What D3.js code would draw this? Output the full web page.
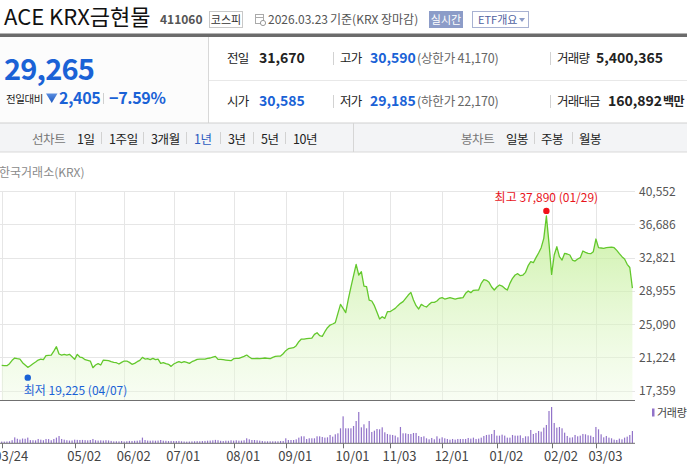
<!DOCTYPE html>
<html>
<head>
<meta charset="utf-8">
<script src="https://cdn.jsdelivr.net/npm/d3@7"></script>
<style>
  html, body { margin: 0; padding: 0; background: #fff; }
  svg { display: block; font-family: "Noto Sans CJK KR", "Noto Sans", sans-serif; }
</style>
</head>
<body>
<script>
var W = 687, H = 468;

// daily close (KRW), trading days 2025-03-24 .. 2026-03-23
var closes = [
  20300, 20265, 20265, 20495, 20885, 21155, 21075, 21035, 20610, 20340,
  20070, 20265, 20495, 20690, 20920, 21035, 20960, 21425, 21465, 21500,
  21965, 22470, 21620, 21500, 21580, 21500, 21580, 21310, 21000, 21580,
  21270, 21190, 20960, 20885, 20805, 20030, 20340, 20495, 20340, 20920,
  20885, 20845, 20730, 20650, 20610, 20455, 20650, 20805, 20805, 20650,
  20420, 20535, 20730, 20885, 21230, 21035, 21075, 20960, 21115, 20960,
  21035, 20535, 20610, 20495, 20420, 20185, 20455, 20610, 20730, 20610,
  20730, 20650, 20535, 20730, 20845, 21000, 21035, 21035, 21035, 21115,
  21155, 21270, 21345, 21000, 21000, 20960, 20920, 20885, 20845, 21075,
  21115, 21115, 21230, 21345, 21500, 21270, 21075, 21075, 21115, 21075,
  21115, 21155, 21115, 21075, 21230, 21345, 21385, 21385, 21655, 22005,
  22240, 22315, 22355, 22585, 23050, 23360, 23360, 23400, 23440, 23475,
  23905, 24095, 23750, 23670, 24210, 24675, 24985, 25105, 25260, 26340,
  27385, 26925, 26420, 28005, 29400, 30715, 32035, 30795, 31180, 29515,
  29440, 27890, 27775, 27235, 26460, 25685, 25955, 25760, 26535, 26535,
  26730, 26925, 27235, 27505, 27700, 28085, 28470, 28780, 27890, 27235,
  26845, 27385, 27195, 27080, 27385, 27620, 27620, 27775, 28085, 28160,
  28005, 28085, 28160, 28085, 28005, 28085, 28125, 28160, 28665, 28935,
  28745, 29015, 29050, 29050, 29825, 30255, 30175, 29945, 29400, 29050,
  29400, 29635, 29515, 29245, 29050, 29825, 30410, 30795, 30950, 30715,
  30795, 31105, 31880, 32345, 32225, 32810, 33350, 33970, 35055, 37650,
  34475, 30870, 33120, 34085, 32925, 32535, 33310, 33235, 33120, 32535,
  32420, 32655, 32810, 33585, 33430, 33310, 33275, 33505, 34975, 33970,
  33930, 33890, 33970, 34010, 34045, 33970, 33660, 33275, 32925, 32655,
  32035, 31670, 29265
];

// daily volume (thousand shares)
var volumes = [
  750, 750, 800, 900, 1350, 2600, 2000, 1650, 2100, 2000,
  2500, 1400, 1350, 1300, 1900, 1600, 1350, 1900, 1850, 1350,
  1900, 2500, 3200, 1900, 1600, 1350, 1200, 1250, 1600, 1500,
  1450, 1500, 1400, 1300, 1450, 1900, 1350, 1200, 1300, 1200,
  1350, 1250, 1050, 850, 900, 850, 1000, 800, 900, 1050,
  1000, 1100, 1150, 1300, 2500, 1450, 1200, 1150, 1200, 1150,
  1200, 1450, 1150, 1100, 1000, 1050, 1000, 1000, 1050, 900,
  800, 750, 800, 850, 900, 950, 900, 1000, 1050, 1150,
  1200, 1300, 1500, 1350, 1100, 1000, 1150, 1100, 1320, 1170,
  1320, 1170, 1170, 1320, 2200, 1750, 1450, 1450, 1320, 1170,
  1020, 880, 880, 880, 880, 880, 880, 1020, 1020, 2200,
  1450, 1450, 1450, 1750, 2490, 3070, 3070, 1900, 2200, 2200,
  2200, 3070, 3070, 2780, 2490, 2630, 3660, 2930, 3950, 4390,
  6590, 11850, 6590, 6590, 6590, 7610, 9800, 13760, 7020, 8340,
  6590, 9800, 4980, 5560, 6290, 6150, 7020, 4830, 4100, 3800,
  3660, 3370, 2630, 7170, 4390, 4390, 4100, 4100, 4540, 4540,
  3220, 2780, 3070, 2200, 1760, 2340, 1760, 3070, 2050, 2630,
  2200, 1900, 1610, 1900, 1610, 1900, 1900, 1900, 1900, 2340,
  2050, 2490, 1900, 2050, 2490, 3220, 3660, 3800, 4100, 5850,
  3370, 3370, 3800, 3370, 2490, 2490, 3660, 3370, 3370, 3510,
  2340, 3070, 3070, 5850, 4100, 4540, 5410, 5120, 6880, 8050,
  14190, 15950, 8930, 6880, 7170, 6590, 4680, 3220, 2490, 2630,
  3660, 3070, 3370, 4100, 3950, 3510, 3370, 2780, 7170, 6150,
  3950, 2630, 3220, 2490, 2200, 1610, 1460, 2050, 1760, 2490,
  2930, 3660, 5400
];

var priceTicks = [17359, 21224, 25090, 28955, 32821, 36686, 40552];
var dateLabels = ["03/24", "05/02", "06/02", "07/01", "08/01", "09/01",
                  "10/01", "11/03", "12/01", "01/02", "02/02", "03/03"];
var dateIndex = [0, 28, 47, 66, 89, 109, 131, 149, 169, 190, 211, 228];

var highIdx = 209, highVal = 37890, highText = "최고 37,890 (01/29)";
var lowIdx = 10, lowVal = 19225, lowText = "최저 19,225 (04/07)";

var BLUE = "#1a62d6";

var svg = d3.select("body").append("svg").attr("width", W).attr("height", H);

function text(x, y, s, size, color, weight, anchor, spacing) {
  return svg.append("text")
    .attr("x", x).attr("y", y)
    .attr("font-size", size + "px")
    .attr("fill", color || "#222")
    .attr("font-weight", weight || "normal")
    .attr("text-anchor", anchor || "start")
    .attr("letter-spacing", spacing || 0)
    .text(s);
}
function vbar(x, y1, y2, c) {
  svg.append("line").attr("x1", x).attr("x2", x).attr("y1", y1).attr("y2", y2)
    .attr("stroke", c || "#d2d2d2").attr("stroke-width", 1);
}
function hline(x1, x2, y, c) {
  svg.append("line").attr("x1", x1).attr("x2", x2).attr("y1", y).attr("y2", y)
    .attr("stroke", c).attr("stroke-width", 1);
}

// ---- title row
text(4, 25, "ACE KRX금현물", 22, "#111");
text(160, 24, "411060", 12, "#555", "bold");
svg.append("rect").attr("x", 209.5).attr("y", 11.5).attr("width", 33).attr("height", 16)
  .attr("fill", "#fff").attr("stroke", "#c8c8c8");
text(226, 23.5, "코스피", 11, "#333", null, "middle");
// calendar icon
svg.append("rect").attr("x", 255.5).attr("y", 14.5).attr("width", 8).attr("height", 9)
  .attr("fill", "#fff").attr("stroke", "#aaa");
hline(256, 263, 17.5, "#aaa");
svg.append("circle").attr("cx", 263).attr("cy", 23).attr("r", 2.6).attr("fill", "#fff").attr("stroke", "#999");
text(268, 24, "2026.03.23", 12, "#555");
text(330, 24, "기준(KRX 장마감)", 12, "#555");
svg.append("rect").attr("x", 429).attr("y", 11).attr("width", 34).attr("height", 17)
  .attr("fill", "#8c9cc8");
text(446, 23.5, "실시간", 11, "#fff", null, "middle");
svg.append("rect").attr("x", 472.5).attr("y", 11.5).attr("width", 56).attr("height", 16)
  .attr("fill", "#fff").attr("stroke", "#a8b2d2");
text(478, 23.5, "ETF개요", 11, "#4f62a0");
svg.append("path").attr("d", "M519,18 L525,18 L522,22 Z").attr("fill", "#8c9cc8");

svg.append("rect").attr("x", 0).attr("y", 33.5).attr("width", W).attr("height", 3.5).attr("fill", "#6b6b6b");

// ---- quote panel
svg.append("rect").attr("x", 0).attr("y", 37).attr("width", 208).attr("height", 86).attr("fill", "#fcfcfc");
vbar(208.5, 37, 123, "#d8d8d8");
hline(209, W, 80.5, "#e8e8e8");

text(4, 80, "29,265", 29, BLUE, "bold", null, -0.8);
text(6, 103, "전일대비", 10.5, "#222", null, null, -0.4);
var tri = svg.append("defs").append("linearGradient").attr("id", "triGrad")
  .attr("x1", 0).attr("y1", 0).attr("x2", 0).attr("y2", 1);
tri.append("stop").attr("offset", "0%").attr("stop-color", "#5b8ee0");
tri.append("stop").attr("offset", "100%").attr("stop-color", "#1a56c0");
svg.append("path").attr("d", "M46,93.5 L57.5,93.5 L51.75,103 Z").attr("fill", "url(#triGrad)");
text(59, 104, "2,405", 16, BLUE, "bold", null, -0.3);
vbar(103.5, 93, 104, "#d0d0d0");
text(109, 104, "−7.59%", 16, BLUE, "bold", null, -0.3);

var rowY = [63, 105.5];
var lab = 12.5, labSp = -0.8;
text(227, rowY[0], "전일", lab, "#222", null, null, labSp);
text(259, rowY[0], "31,670", 14, "#222", "bold");
vbar(333.5, 52, 65);
text(340, rowY[0], "고가", lab, "#222", null, null, labSp);
text(370, rowY[0], "30,590", 14, BLUE, "bold");
text(417, rowY[0], "(상한가 41,170)", 12.5, "#666", null, null, -0.2);
vbar(550.5, 52, 65);
text(557, rowY[0], "거래량", lab, "#222", null, null, labSp);
text(596, rowY[0], "5,400,365", 14, "#222", "bold");

text(227, rowY[1], "시가", lab, "#222", null, null, labSp);
text(259, rowY[1], "30,585", 14, BLUE, "bold");
vbar(333.5, 95, 108);
text(340, rowY[1], "저가", lab, "#222", null, null, labSp);
text(370, rowY[1], "29,185", 14, BLUE, "bold");
text(417, rowY[1], "(하한가 22,170)", 12.5, "#666", null, null, -0.2);
vbar(550.5, 95, 108);
text(557, rowY[1], "거래대금", lab, "#222", null, null, labSp);
text(608, rowY[1], "160,892", 14, "#222", "bold");
text(663, rowY[1], "백만", 12, "#222", "bold", null, -0.5);

// ---- period tabs
svg.append("rect").attr("x", 0).attr("y", 123).attr("width", W).attr("height", 29).attr("fill", "#f3f4f6");
hline(0, W, 123, "#d0d0d0");
hline(0, W, 152, "#d9d9d9");
vbar(353.5, 123, 152, "#d6d6d6");

var tabY = 143.5;
text(32, tabY, "선차트", 12.5, "#777", null, null, -0.4);
var tabs = [["1일", 77], ["1주일", 109], ["3개월", 151], ["1년", 194], ["3년", 228], ["5년", 261], ["10년", 293]];
tabs.forEach(function(t, k) {
  text(t[1], tabY, t[0], 12.5, t[0] == "1년" ? "#2d5cc0" : "#222", null, null, -0.4);
  if (k < tabs.length - 1) vbar(tabs[k + 1][1] - 7.5, 132, 144);
});
text(461, tabY, "봉차트", 12.5, "#777", null, null, -0.4);
var candles = [["일봉", 506], ["주봉", 541], ["월봉", 579]];
candles.forEach(function(t, k) {
  text(t[1], tabY, t[0], 12.5, "#222", null, null, -0.4);
  if (k < candles.length - 1) vbar(candles[k + 1][1] - 6.5, 132, 144);
});

// ---- chart
text(-1, 177, "한국거래소(KRX)", 12, "#8a8a8a");

var plotRight = 635, plotTop = 191, plotBottom = 400, volBase = 443.3;
var x = d3.scaleLinear().domain([0, closes.length - 1]).range([1.7, 632.4]);
var y = d3.scaleLinear().domain([17359, 40552]).range([390.7, 191]);
var yv = d3.scaleLinear().domain([0, d3.max(volumes)]).range([volBase, 407]);

var defs = svg.append("defs");
var grad = defs.append("linearGradient").attr("id", "fillGrad")
  .attr("gradientUnits", "userSpaceOnUse")
  .attr("x1", 0).attr("y1", plotTop).attr("x2", 0).attr("y2", plotBottom);
grad.append("stop").attr("offset", "0%").attr("stop-color", "#b3ea7c").attr("stop-opacity", 0.8);
grad.append("stop").attr("offset", "100%").attr("stop-color", "#eefbe2").attr("stop-opacity", 0.4);

var grid = svg.append("g");
grid.selectAll(".hg").data(priceTicks).enter().append("line")
  .attr("x1", 0).attr("x2", plotRight)
  .attr("y1", function(d) { return Math.round(y(d)) + 0.5; })
  .attr("y2", function(d) { return Math.round(y(d)) + 0.5; })
  .attr("stroke", "#e6e6e6");
grid.selectAll(".vg").data(dateIndex).enter().append("line")
  .attr("x1", function(d) { return Math.round(x(d)) + 0.5; })
  .attr("x2", function(d) { return Math.round(x(d)) + 0.5; })
  .attr("y1", plotTop).attr("y2", plotBottom)
  .attr("stroke", "#e6e6e6");

var area = d3.area()
  .x(function(d, i) { return x(i); })
  .y0(plotBottom)
  .y1(function(d) { return y(d); });
svg.append("path").datum(closes).attr("d", area).attr("fill", "url(#fillGrad)");

var line = d3.line()
  .x(function(d, i) { return x(i); })
  .y(function(d) { return y(d); });
svg.append("path").datum(closes).attr("d", line)
  .attr("fill", "none").attr("stroke", "#63c82c").attr("stroke-width", 1.3)
  .attr("stroke-linejoin", "round");

// price axis labels
svg.append("g").selectAll("text").data(priceTicks).enter().append("text")
  .attr("x", 639).attr("y", function(d) { return y(d) + 4.5; })
  .attr("font-size", "12px").attr("fill", "#555")
  .text(function(d) { return d3.format(",")(d); });

// high / low markers
svg.append("circle").attr("cx", x(highIdx)).attr("cy", y(highVal) - 3).attr("r", 3.2).attr("fill", "#f2111a");
text(x(highIdx), y(highVal) - 12, highText, 12, "#e8141c", null, "middle");
svg.append("circle").attr("cx", x(lowIdx)).attr("cy", y(lowVal) + 3).attr("r", 3.2).attr("fill", BLUE);
text(x(lowIdx) - 4, y(lowVal) + 20, lowText, 12, BLUE);

// volume panel
hline(0, plotRight, 400.5, "#707070");
svg.append("g").selectAll("rect").data(volumes).enter().append("rect")
  .attr("x", function(d, i) { return x(i) - 0.6; })
  .attr("width", 1.2)
  .attr("y", function(d) { return yv(d); })
  .attr("height", function(d) { return volBase - yv(d); })
  .attr("fill", "#9273c9");
hline(0, plotRight, volBase, "#707070");

svg.append("g").selectAll("line").data(dateIndex).enter().append("line")
  .attr("x1", function(d) { return Math.round(x(d)) + 0.5; })
  .attr("x2", function(d) { return Math.round(x(d)) + 0.5; })
  .attr("y1", volBase).attr("y2", volBase + 5)
  .attr("stroke", "#707070");
svg.append("g").selectAll("text").data(dateIndex).enter().append("text")
  .attr("x", function(d) { return x(d) - 7.5; })
  .attr("y", 461)
  .attr("font-size", "13px").attr("fill", "#444")
  .text(function(d, k) { return dateLabels[k]; });

svg.append("rect").attr("x", 652).attr("y", 408.5).attr("width", 2.5).attr("height", 8).attr("fill", "#9273c9");
text(657, 416.5, "거래량", 11, "#444", null, null, -0.3);
</script>
</body>
</html>
